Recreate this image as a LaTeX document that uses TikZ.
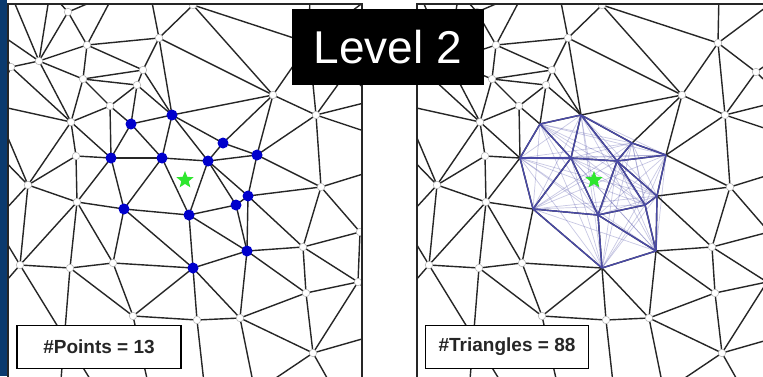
\documentclass[tikz,border=0pt]{standalone}
\usepackage{fontspec}
\setmainfont{Liberation Sans}
\usetikzlibrary{shapes.geometric}

\definecolor{stripblue}{HTML}{0B3A6E}
\definecolor{meshgray}{HTML}{262626}
\definecolor{ptblue}{HTML}{0000CC}
\definecolor{stargreen}{HTML}{2EE62E}
\definecolor{hullblue}{HTML}{4A4AA6}

\tikzset{
  vtx/.style={circle,draw=gray!55,fill=white,line width=0.6pt,inner sep=0pt,minimum size=7.5pt},
  ptdot/.style={circle,fill=ptblue,inner sep=0pt,minimum size=11pt},
  meshline/.style={draw=meshgray,line width=1.4pt},
  hullline/.style={draw=hullblue,line width=1.4pt},
  fanline/.style={draw=hullblue,line width=0.7pt,opacity=0.3},
  query/.style={star,star points=5,star point ratio=2.3,fill=stargreen,inner sep=0pt,minimum size=18pt},
  countbox/.style={draw=black,line width=1.8pt,fill=white,inner sep=0pt,minimum height=43pt,text=black!85,font=\bfseries\fontsize{19}{19}\selectfont},
  panel/.style={draw=meshgray,line width=1.6pt}
}

\newcommand\meshverts{a/68/12,b/159/38,c/87/45,d/39/61,e/143/70,f/11/67,g/83/79,h/137/85,
  i/110/106,j/71/122,k/76/156,l/28/185,m/77/202,n/20/265,o/70/268,p/113/263,q/133/316,
  r/197/320,s/240/318,t/313/353,u/306/293,v/358/282,w/303/247,x/360/232,y/321/187,
  z/316/115,na/273/95,nb/309/43,nc/347/72,nt/193/5}
\newcommand\blueverts{b1/172/115,b2/131/124,b3/111/158,b4/162/158,b5/208/161,b6/223/143,
  b7/257/155,b8/248/196,b9/236/205,b10/124/209,b11/189/215,b12/247/251,b13/193/268}
\newcommand\outerverts{e1/10/-8,e2/50/-8,e3/115/-8,e4/150/-8,e5/310/-8,e6/372/-4,
  e7/376/52,e8/376/100,e9/376/135,e10/376/170,e11/376/245,e12/376/300,e13/376/335,
  e14/335/392,e15/255/392,e16/205/392,e17/150/392,e18/60/392,e19/-6/30,e20/-6/105,
  e21/-6/150,e22/-6/222,e23/-6/295,e25/98/392}
\newcommand\meshedges{a/c,a/d,a/e2,a/e3,c/e3,d/e2,d/e1,d/e19,d/c,d/g,d/j,d/f,f/e19,f/j,f/e20,
  c/b,c/g,c/e,b/e4,b/nt,b/e,b/b1,b/na,e/g,e/h,e/b1,g/h,g/i,g/j,h/i,h/b2,h/b1,i/j,i/b2,i/b3,
  j/b3,j/k,j/l,j/e20,l/e20,l/e21,l/e22,l/k,l/m,l/n,k/b3,k/m,m/b3,m/b10,m/n,m/o,m/p,
  n/o,n/e22,n/e23,n/e25,o/p,o/q,o/e18,p/q,p/b10,p/b13,q/b13,q/r,q/e17,
  r/b13,r/s,r/e16,s/b13,s/b12,s/u,s/t,s/e15,t/u,t/v,t/e14,t/e13,t/e15,u/w,u/v,u/b12,
  v/w,v/x,v/e12,w/x,w/y,w/b12,w/b8,x/y,x/e11,y/b8,y/b7,y/z,y/e10,
  z/b7,z/na,z/nb,z/nc,z/e8,z/e9,nc/nb,nc/e7,nc/e8,nb/na,nb/nt,nb/e5,nb/e6,nt/na,nt/e4,
  na/b7,na/b6,na/b1}
\newcommand\hulledges{b1/b2,b1/b4,b1/b5,b1/b6,b2/b3,b2/b4,b3/b4,b3/b10,b4/b5,b4/b10,b4/b11,
  b5/b6,b5/b7,b5/b8,b5/b9,b5/b11,b6/b7,b7/b8,b8/b9,b8/b12,b9/b11,b9/b12,b10/b11,b10/b13,
  b11/b13,b11/b12,b12/b13}

\begin{document}
\begin{tikzpicture}[x=1pt,y=-1pt]
\useasboundingbox (0,0) rectangle (763,376);
\fill[white] (0,0) rectangle (763,376);
\fill[stripblue] (0,0) rectangle (7,376);

\foreach \p/\dx in {L/0,R/409}{
  \begin{scope}[xshift=\dx pt]
    \foreach \n/\x/\y in \meshverts {\coordinate (\p-\n) at (\x,\y);}
    \foreach \n/\x/\y in \blueverts {\coordinate (\p-\n) at (\x,\y);}
    \foreach \n/\x/\y in \outerverts {\coordinate (\p-\n) at (\x,\y);}
    \begin{scope}
      \clip (8,4) rectangle (362,380);
      \foreach \s/\t in \meshedges {\draw[meshline] (\p-\s) -- (\p-\t);}
      \foreach \s/\t in \hulledges {\draw[meshline] (\p-\s) -- (\p-\t);}
      \foreach \n/\x/\y in \meshverts {\node[vtx] (\p-\n v) at (\p-\n) {};}
    \end{scope}
    \draw[panel] (8,4) rectangle (362,380);
  \end{scope}
}

\foreach \i in {1,...,13}{
  \foreach \j in {\i,...,13}{\draw[fanline] (R-b\i) -- (R-b\j);}
}
\foreach \s/\t in \hulledges {\draw[hullline] (R-\s) -- (R-\t);}
\foreach \n/\x/\y in \blueverts {\node[ptdot] (L-\n d) at (L-\n) {};}

\node[query] (qL) at (185,180) {};
\node[query] (qR) at (594,180) {};

\node[countbox,minimum width=164pt] (npts) at (99,347) {\#Points = 13};
\node[countbox,minimum width=163pt] (ntri) at (507,347) {\#Triangles = 88};
\node[fill=black,text=white,inner sep=0pt,minimum width=192pt,minimum height=76pt,
  font=\fontsize{46}{46}\selectfont] (lvl) at (388,47) {Level 2};
\end{tikzpicture}
\end{document}
